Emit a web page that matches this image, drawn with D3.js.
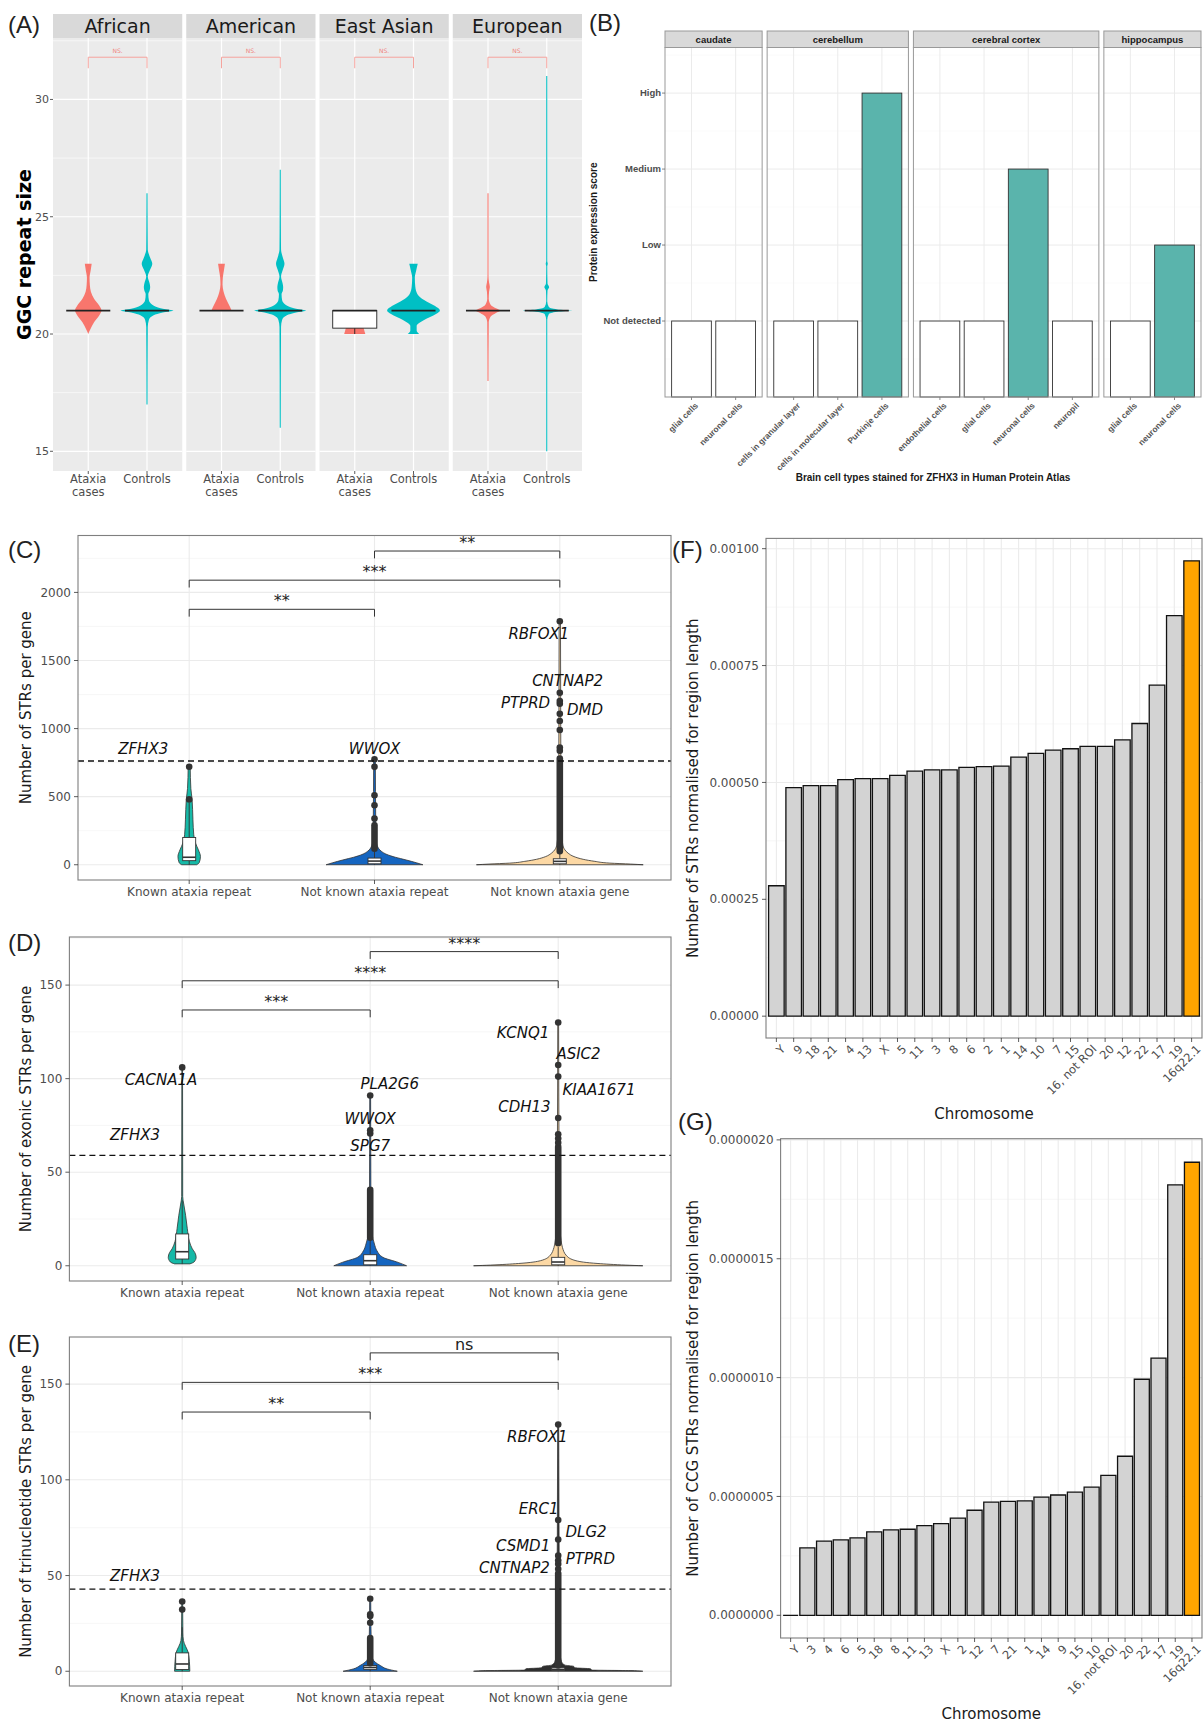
<!DOCTYPE html>
<html>
<head>
<meta charset="utf-8">
<script src="https://cdn.jsdelivr.net/npm/d3@7"></script>
<style>
  body { margin: 0; background: #fff; }
  svg { display: block; }
</style>
</head>
<body>
<script>
// ---------- Panel A: GGC repeat size per population ----------
var populations = ["African", "American", "East Asian", "European"];
var groupsA = [["Ataxia", "cases"], ["Controls"]];
var ticksA = [15, 20, 25, 30];
// violin outlines: [repeat size, relative half width]
var africanAtaxia = [[20,0],[20.2,0.08],[20.5,0.22],[20.8,0.42],[21,0.5],[21.2,0.42],[21.5,0.22],[21.8,0.1],[22.1,0.06],[22.4,0.05],[22.7,0.09],[23,0.13]];
var africanControls = [[17,0.02],[20.3,0.03],[20.6,0.07],[20.8,0.25],[20.92,0.6],[21,1],[21.08,0.6],[21.25,0.2],[21.45,0.07],[21.7,0.05],[21.85,0.1],[22,0.12],[22.15,0.1],[22.45,0.03],[22.75,0.12],[23,0.2],[23.25,0.12],[23.6,0.03],[24.5,0.025],[26,0.02]];
var americanAtaxia = [[21,0.38],[21.2,0.3],[21.5,0.17],[21.8,0.08],[22.1,0.04],[22.4,0.05],[22.7,0.09],[23,0.13]];
var americanControls = [[16,0.02],[20.3,0.03],[20.6,0.07],[20.8,0.25],[20.92,0.6],[21,0.98],[21.08,0.6],[21.25,0.2],[21.45,0.07],[21.7,0.05],[21.85,0.1],[22,0.11],[22.15,0.09],[22.45,0.03],[22.75,0.1],[23,0.16],[23.25,0.1],[23.6,0.03],[24.5,0.025],[27,0.02]];
var eastAsianAtaxia = [[20,0.4],[20.25,0.34],[20.5,0.3],[20.75,0.34],[21,0.4]];
var eastAsianControls = [[20,0.22],[20.15,0.12],[20.35,0.12],[20.6,0.4],[20.85,0.85],[21,1],[21.2,0.8],[21.45,0.4],[21.7,0.15],[22,0.07],[22.4,0.05],[22.7,0.1],[23,0.16]];
var europeanAtaxia = [[18,0.02],[20.5,0.03],[20.75,0.1],[20.9,0.3],[21,0.47],[21.1,0.3],[21.25,0.1],[21.5,0.03],[21.8,0.04],[22,0.07],[22.2,0.04],[22.5,0.02],[26,0.02]];
var europeanControls = [[15,0.02],[20.6,0.02],[20.85,0.08],[20.95,0.4],[21,0.95],[21.05,0.4],[21.15,0.08],[21.4,0.02],[21.85,0.03],[22,0.09],[22.15,0.03],[22.9,0.02],[23,0.04],[23.1,0.02],[31,0.02]];
// box stats: [lower whisker, q1, median, q3, upper whisker]
var boxesA = [
  [[21,21,21,21,21],[21,21,21,21,21]],
  [[21,21,21,21,21],[21,21,21,21,21]],
  [[20,20.25,21,21,21],[21,21,21,21,21]],
  [[21,21,21,21,21],[21,21,21,21,21]]
];
var nsBarA = 31.8, nsTipA = 31.33, nsLabelA = "NS.";

// ---------- Panel B: Human Protein Atlas staining ----------
var tissuesB = ["caudate", "cerebellum", "cerebral cortex", "hippocampus"];
var cellsB = [
  ["glial cells", "neuronal cells"],
  ["cells in granular layer", "cells in molecular layer", "Purkinje cells"],
  ["endothelial cells", "glial cells", "neuronal cells", "neuropil"],
  ["glial cells", "neuronal cells"]
];
var scoresB = [[1,1],[1,1,4],[1,1,3,1],[1,2]];
var levelsB = ["Not detected", "Low", "Medium", "High"];

// ---------- Panels C, D, E: STRs per gene ----------
var categories = ["Known ataxia repeat", "Not known ataxia repeat", "Not known ataxia gene"];

var ticksC = [0, 500, 1000, 1500, 2000];
var knownC = [[0,0.09],[15,0.12],[60,0.135],[110,0.11],[160,0.075],[220,0.055],[330,0.045],[480,0.035],[560,0.02],[720,0.012]];
var repeatC = [[0,0.58],[15,0.5],[35,0.38],[55,0.25],[75,0.15],[100,0.08],[130,0.04],[180,0.02],[300,0.015],[775,0.01]];
var geneC = [[0,1],[5,0.85],[12,0.6],[25,0.42],[40,0.28],[60,0.17],[85,0.1],[110,0.06],[150,0.035],[250,0.02],[800,0.012],[1788,0.008]];
var boxesC = [[0,30,55,200,455],[0,7,27,49,110],[0,7,25,44,95]];
var outliersC = [[480,720],[339,437,510,719,775],[837,861,990,1056,1109,1182,1202,1263,1788]];
var denseC = [[],[[118,290]],[[100,780]]];
var thresholdC = 762;
var bracketsC = [[0,1,1876,"**"],[0,2,2090,"***"],[1,2,2304,"**"]];
var labelsC = [["ZFHX3",0,849,-0.248],["WWOX",1,849,0],["RBFOX1",2,1696,-0.114],["CNTNAP2",2,1348,0.042],["PTPRD",2,1190,-0.185],["DMD",2,1141,0.136]];

var ticksD = [0, 50, 100, 150];
var knownD = [[1,0.09],[2,0.14],[4.5,0.165],[7,0.15],[9,0.12],[13,0.085],[20,0.06],[27,0.04],[33,0.018],[37,0.006],[106,0.004]];
var repeatD = [[0,0.43],[1.8,0.33],[4.5,0.15],[8,0.08],[11.6,0.05],[15,0.03],[20,0.015],[40,0.008],[91,0.005]];
var geneD = [[0,1],[0.35,0.8],[1.2,0.47],[2.7,0.21],[5.3,0.1],[9.8,0.05],[13.4,0.035],[20,0.02],[60,0.01],[130,0.005]];
var boxesD = [[1,3.6,7.5,17,35],[0,0.5,2.7,5.9,14],[0,0.5,2,4.5,10]];
var outliersD = [[106],[70.7,72.4,91],[65.7,68,70.3,79,101.1,107.3,130]];
var denseD = [[],[[15,40.6]],[[12,63.6]]];
var thresholdD = 59;
var bracketsD = [[0,1,136.7,"***"],[0,2,152.3,"****"],[1,2,167.9,"****"]];
var labelsD = [["CACNA1A",0,99.5,-0.113],["ZFHX3",0,69.8,-0.251],["PLA2G6",1,97.2,0.104],["WWOX",1,78.5,0],["SPG7",1,64.3,0],["KCNQ1",2,124.3,-0.187],["ASIC2",2,113.2,0.108],["KIAA1671",2,94.2,0.217],["CDH13",2,84.8,-0.18]];

var ticksE = [0, 50, 100, 150];
var knownE = [[0,0.09],[5,0.085],[10,0.07],[13,0.04],[16,0.015],[20,0.008],[36,0.005]];
var repeatE = [[0,0.32],[1.2,0.2],[3,0.12],[4.7,0.06],[6.4,0.03],[9,0.015],[38,0.006]];
var geneE = [[0,1],[0.3,0.9],[0.6,0.4],[1.3,0.38],[1.8,0.2],[2.6,0.18],[3.2,0.08],[5,0.04],[10,0.02],[129,0.006]];
var boxesE = [[0,0.9,3.8,9.6,23],[0,1,2,3,5],[0,0.5,1,2,4]];
var outliersE = [[32.2,36.4],[25.3,28.8,29.7,37.9],[53.4,56,57.8,60.4,68.8,79,128.9]];
var denseE = [[],[[4.2,17.4]],[[3,51]]];
var thresholdE = 42.9;
var bracketsE = [[0,1,135.4,"**"],[0,2,150.9,"***"],[1,2,166.3,"ns"]];
var labelsE = [["ZFHX3",0,49.9,-0.251],["RBFOX1",2,122.4,-0.111],["ERC1",2,85,-0.104],["DLG2",2,72.7,0.148],["CSMD1",2,65.3,-0.187],["PTPRD",2,58.7,0.171],["CNTNAP2",2,53.9,-0.233]];

// ---------- Panels F, G: STRs normalised for region length ----------
var chromF = ["Y","9","18","21","4","13","X","5","11","3","8","6","2","1","14","10","7","15","16, not ROI","20","12","22","17","19","16q22.1"];
var valuesF = [0.000279,0.000489,0.000493,0.000493,0.000506,0.000508,0.000508,0.000515,0.000524,0.000527,0.000527,0.000532,0.000534,0.000535,0.000554,0.000562,0.000569,0.000572,0.000577,0.000577,0.000591,0.000626,0.000708,0.000857,0.000974];
var ticksF = [0, 0.00025, 0.0005, 0.00075, 0.001];
var chromG = ["Y","3","4","6","5","18","8","11","13","X","2","12","7","21","1","14","9","15","10","16, not ROI","20","22","17","19","16q22.1"];
var valuesG = [0,2.84e-7,3.12e-7,3.17e-7,3.26e-7,3.51e-7,3.59e-7,3.62e-7,3.77e-7,3.86e-7,4.09e-7,4.42e-7,4.76e-7,4.79e-7,4.81e-7,4.97e-7,5.06e-7,5.18e-7,5.39e-7,5.89e-7,6.69e-7,9.93e-7,1.082e-6,1.811e-6,1.906e-6];
var ticksG = [0, 5e-7, 1e-6, 1.5e-6, 2e-6];
var highlightChrom = "16q22.1";

// ---------- drawing ----------
var FONT = "DejaVu Sans";
var svg = d3.select("body").append("svg")
  .attr("width", 1203).attr("height", 1725)
  .style("font-family", FONT);

function hline(g, x1, x2, yy, color, w) {
  g.append("line").attr("x1", x1).attr("x2", x2).attr("y1", yy).attr("y2", yy)
    .attr("stroke", color).attr("stroke-width", w);
}
function vline(g, xx, y1, y2, color, w) {
  g.append("line").attr("x1", xx).attr("x2", xx).attr("y1", y1).attr("y2", y2)
    .attr("stroke", color).attr("stroke-width", w);
}
function minorOf(ticks, domain) {
  var step = ticks[1] - ticks[0], out = [];
  for (var v = ticks[0] - step / 2; v <= domain[1]; v += step) {
    if (v >= domain[0]) out.push(v);
  }
  return out;
}
function violinPath(xc, unit, y) {
  return d3.area()
    .y(function(d) { return y(d[0]); })
    .x0(function(d) { return xc - d[1] * 0.45 * unit; })
    .x1(function(d) { return xc + d[1] * 0.45 * unit; })
    .curve(d3.curveMonotoneY);
}
function drawBox(g, xc, half, y, s, medW, stroke) {
  vline(g, xc, y(s[0]), y(s[1]), stroke, 0.9);
  vline(g, xc, y(s[3]), y(s[4]), stroke, 0.9);
  g.append("rect").attr("x", xc - half).attr("y", y(s[3]))
    .attr("width", half * 2).attr("height", Math.max(0, y(s[1]) - y(s[3])))
    .attr("fill", "#fff").attr("stroke", stroke).attr("stroke-width", 0.9);
  hline(g, xc - half, xc + half, y(s[2]), stroke, medW);
}

// panel letters
[["(A)", 8, 33], ["(B)", 589, 31], ["(C)", 8, 558], ["(D)", 8, 951], ["(E)", 8, 1352], ["(F)", 672, 558], ["(G)", 678, 1130]]
  .forEach(function(t) {
    svg.append("text").attr("x", t[1]).attr("y", t[2]).text(t[0])
      .attr("font-family", "Liberation Sans").attr("font-size", 24).attr("fill", "#222");
  });

// ===== Panel A =====
(function() {
  var g = svg.append("g");
  var violinsA = [[africanAtaxia, africanControls], [americanAtaxia, americanControls],
                  [eastAsianAtaxia, eastAsianControls], [europeanAtaxia, europeanControls]];
  var colorsA = ["#F8766D", "#00BFC4"];
  var fx = d3.scaleBand().domain(populations).range([53, 582]).paddingInner(0.03);
  var y = d3.scaleLinear().domain([14.16, 32.62]).range([471, 38]);
  var T = 38, B = 471, stripTop = 14;

  populations.forEach(function(pop, pi) {
    var x0 = fx(pop), bw = fx.bandwidth();
    var x = d3.scaleLinear().domain([0.4, 2.6]).range([x0, x0 + bw]);
    var unit = x(1) - x(0);
    g.append("rect").attr("x", x0).attr("y", stripTop).attr("width", bw).attr("height", T - stripTop)
      .attr("fill", "#d9d9d9");
    g.append("text").attr("x", x0 + bw / 2).attr("y", (stripTop + T) / 2).attr("dy", "0.36em")
      .attr("text-anchor", "middle").attr("font-size", 19).attr("fill", "#1a1a1a").text(pop);
    g.append("rect").attr("x", x0).attr("y", T).attr("width", bw).attr("height", B - T).attr("fill", "#ebebeb");
    minorOf(ticksA, y.domain()).forEach(function(v) { hline(g, x0, x0 + bw, y(v), "#fff", 0.6); });
    ticksA.forEach(function(v) { hline(g, x0, x0 + bw, y(v), "#fff", 1.2); });
    [1, 2].forEach(function(v) { vline(g, x(v), T, B, "#fff", 1.2); });

    violinsA[pi].forEach(function(shape, gi) {
      g.append("path").attr("d", violinPath(x(gi + 1), unit, y)(shape)).attr("fill", colorsA[gi]);
    });
    boxesA[pi].forEach(function(s, gi) {
      drawBox(g, x(gi + 1), 0.375 * unit, y, s, 1.8, "#222");
    });
    // significance bracket
    g.append("path")
      .attr("d", "M" + x(1) + "," + y(nsTipA) + "V" + y(nsBarA) + "H" + x(2) + "V" + y(nsTipA))
      .attr("fill", "none").attr("stroke", "#F5A39D").attr("stroke-width", 1);
    g.append("text").attr("x", x(1.5)).attr("y", y(nsBarA) - 4).attr("text-anchor", "middle")
      .attr("font-size", 6).attr("fill", "#F0837B").text(nsLabelA);
    // x labels
    groupsA.forEach(function(lines, gi) {
      lines.forEach(function(l, li) {
        g.append("text").attr("x", x(gi + 1)).attr("y", B + 12 + li * 13).attr("text-anchor", "middle")
          .attr("font-size", 11.5).attr("fill", "#4d4d4d").text(l);
      });
      vline(g, x(gi + 1), B, B + 3, "#333", 0.8);
    });
  });
  var L = fx(populations[0]);
  ticksA.forEach(function(v) {
    hline(g, L - 3, L, y(v), "#333", 0.8);
    g.append("text").attr("x", L - 4).attr("y", y(v)).attr("dy", "0.35em").attr("text-anchor", "end")
      .attr("font-size", 11).attr("fill", "#4d4d4d").text(v);
  });
  g.append("text").attr("transform", "translate(31," + (T + B) / 2 + ") rotate(-90)")
    .attr("text-anchor", "middle").attr("font-size", 19).attr("font-weight", "bold").attr("fill", "#000")
    .text("GGC repeat size");
})();

// ===== Panel B =====
(function() {
  var g = svg.append("g").style("font-family", "Liberation Sans");
  var left = 665, right = 1201, gap = 5, stripTop = 31, T = 47.5, B = 397;
  var y = d3.scaleLinear().domain([0, 4.6]).range([B, T]);
  var spans = cellsB.map(function(c) { return c.length + 0.2; });
  var unit = (right - left - gap * (spans.length - 1)) / d3.sum(spans);
  var x0 = left;
  tissuesB.forEach(function(t, ti) {
    var w = spans[ti] * unit;
    var x = d3.scaleBand().domain(cellsB[ti]).range([x0, x0 + w]).paddingInner(0.1).paddingOuter(0.15);
    g.append("rect").attr("x", x0).attr("y", T).attr("width", w).attr("height", B - T).attr("fill", "#fff");
    [0.5, 1.5, 2.5, 3.5, 4.5].forEach(function(v) { hline(g, x0, x0 + w, y(v), "#f4f4f4", 0.5); });
    [1, 2, 3, 4].forEach(function(v) { hline(g, x0, x0 + w, y(v), "#ebebeb", 1); });
    cellsB[ti].forEach(function(c) { vline(g, x(c) + x.bandwidth() / 2, T, B, "#ebebeb", 1); });
    cellsB[ti].forEach(function(c, ci) {
      var v = scoresB[ti][ci];
      g.append("rect").attr("x", x(c)).attr("y", y(v)).attr("width", x.bandwidth()).attr("height", y(0) - y(v))
        .attr("fill", v > 1 ? "#5AB4AC" : "#fff").attr("stroke", "#333").attr("stroke-width", 0.9);
      var cx = x(c) + x.bandwidth() / 2;
      vline(g, cx, B, B + 3, "#555", 0.7);
      g.append("text").attr("transform", "translate(" + (cx + 3) + "," + (B + 5) + ") rotate(-45)")
        .attr("text-anchor", "end").attr("dy", "0.7em").attr("font-size", 8.4).attr("font-weight", "bold")
        .attr("fill", "#555").text(c);
    });
    g.append("rect").attr("x", x0).attr("y", T).attr("width", w).attr("height", B - T)
      .attr("fill", "none").attr("stroke", "#999").attr("stroke-width", 1);
    g.append("rect").attr("x", x0).attr("y", stripTop).attr("width", w).attr("height", T - stripTop)
      .attr("fill", "#d9d9d9").attr("stroke", "#999").attr("stroke-width", 1);
    g.append("text").attr("x", x0 + w / 2).attr("y", (stripTop + T) / 2).attr("dy", "0.36em")
      .attr("text-anchor", "middle").attr("font-size", 9.5).attr("font-weight", "bold").attr("fill", "#1a1a1a").text(t);
    x0 += w + gap;
  });
  levelsB.forEach(function(l, i) {
    hline(g, left - 3, left, y(i + 1), "#555", 0.7);
    g.append("text").attr("x", left - 4).attr("y", y(i + 1)).attr("dy", "0.35em").attr("text-anchor", "end")
      .attr("font-size", 9.5).attr("font-weight", "bold").attr("fill", "#4d4d4d").text(l);
  });
  g.append("text").attr("transform", "translate(597," + (T + B) / 2 + ") rotate(-90)")
    .attr("text-anchor", "middle").attr("font-size", 10).attr("font-weight", "bold").attr("fill", "#1a1a1a")
    .text("Protein expression score");
  g.append("text").attr("x", (left + right) / 2).attr("y", 481).attr("text-anchor", "middle")
    .attr("font-size", 10).attr("font-weight", "bold").attr("fill", "#1a1a1a")
    .text("Brain cell types stained for ZFHX3 in Human Protein Atlas");
})();

// ===== Panels C, D, E =====
function drawViolinPanel(p) {
  var g = svg.append("g");
  var L = p.rect[0], R = p.rect[1], T = p.rect[2], B = p.rect[3];
  var x = d3.scalePoint().domain(categories).range([L, R]).padding(0.6);
  var unit = x.step();
  var y = d3.scaleLinear().domain(p.domain).range([B, T]);
  var span = p.domain[1] - p.domain[0];

  minorOf(p.ticks, p.domain).forEach(function(v) { hline(g, L, R, y(v), "#f3f3f3", 0.7); });
  p.ticks.forEach(function(v) { hline(g, L, R, y(v), "#ebebeb", 1.1); });
  categories.forEach(function(c) { vline(g, x(c), T, B, "#ebebeb", 1.1); });

  categories.forEach(function(c, i) {
    g.append("path").attr("d", violinPath(x(c), unit, y)(p.violins[i]))
      .attr("fill", p.fills[i]).attr("stroke", "#333").attr("stroke-width", 0.8);
  });
  categories.forEach(function(c, i) {
    drawBox(g, x(c), 6.5, y, p.boxes[i], 1.6, "#333");
    p.dense[i].forEach(function(r) {
      g.append("line").attr("x1", x(c)).attr("x2", x(c)).attr("y1", y(r[0])).attr("y2", y(r[1]))
        .attr("stroke", "#333").attr("stroke-width", 6.6).attr("stroke-linecap", "round");
    });
    g.selectAll(null).data(p.outliers[i]).enter().append("circle")
      .attr("cx", x(c)).attr("cy", function(d) { return y(d); }).attr("r", 3.3).attr("fill", "#333");
  });

  g.append("line").attr("x1", L).attr("x2", R).attr("y1", y(p.threshold)).attr("y2", y(p.threshold))
    .attr("stroke", "#111").attr("stroke-width", 1.3).attr("stroke-dasharray", "6,4");

  var tip = 0.0213 * span;
  p.brackets.forEach(function(b) {
    var xa = x(categories[b[0]]), xb = x(categories[b[1]]);
    g.append("path").attr("d", "M" + xa + "," + y(b[2] - tip) + "V" + y(b[2]) + "H" + xb + "V" + y(b[2] - tip))
      .attr("fill", "none").attr("stroke", "#333").attr("stroke-width", 1);
    g.append("text").attr("x", (xa + xb) / 2).attr("y", y(b[2]) - 3).attr("text-anchor", "middle")
      .attr("font-size", 16).attr("fill", "#222").text(b[3]);
  });

  p.labels.forEach(function(l) {
    g.append("text").attr("x", x(categories[l[1]]) + l[3] * unit).attr("y", y(l[2])).attr("dy", "0.35em")
      .attr("text-anchor", "middle").attr("font-size", 15).attr("font-style", "italic").attr("fill", "#111")
      .text(l[0]);
  });

  g.append("rect").attr("x", L).attr("y", T).attr("width", R - L).attr("height", B - T)
    .attr("fill", "none").attr("stroke", "#7f7f7f").attr("stroke-width", 1.1);

  p.ticks.forEach(function(v) {
    hline(g, L - 4, L, y(v), "#333", 0.8);
    g.append("text").attr("x", L - 7).attr("y", y(v)).attr("dy", "0.35em").attr("text-anchor", "end")
      .attr("font-size", 12).attr("fill", "#4d4d4d").text(v);
  });
  categories.forEach(function(c) {
    vline(g, x(c), B, B + 4, "#333", 0.8);
    g.append("text").attr("x", x(c)).attr("y", B + 16).attr("text-anchor", "middle")
      .attr("font-size", 12).attr("fill", "#4d4d4d").text(c);
  });
  g.append("text").attr("transform", "translate(26," + (T + B) / 2 + ") rotate(-90)").attr("dy", "0.35em")
    .attr("text-anchor", "middle").attr("font-size", 15).attr("fill", "#1a1a1a").text(p.title);
}

var fillsCDE = ["#16B9A7", "#1565C0", "#FCD8A4"];
drawViolinPanel({ rect: [78, 671, 535.5, 880], domain: [-112, 2418], ticks: ticksC,
  violins: [knownC, repeatC, geneC], boxes: boxesC, outliers: outliersC, dense: denseC,
  threshold: thresholdC, brackets: bracketsC, labels: labelsC, fills: fillsCDE,
  title: "Number of STRs per gene" });
drawViolinPanel({ rect: [69.4, 671, 937, 1281], domain: [-8.15, 175.7], ticks: ticksD,
  violins: [knownD, repeatD, geneD], boxes: boxesD, outliers: outliersD, dense: denseD,
  threshold: thresholdD, brackets: bracketsD, labels: labelsD, fills: fillsCDE,
  title: "Number of exonic STRs per gene" });
drawViolinPanel({ rect: [69.4, 671, 1337, 1686], domain: [-7.7, 174.6], ticks: ticksE,
  violins: [knownE, repeatE, geneE], boxes: boxesE, outliers: outliersE, dense: denseE,
  threshold: thresholdE, brackets: bracketsE, labels: labelsE, fills: ["#16B9A7", "#1565C0", "#2e2e2e"],
  title: "Number of trinucleotide STRs per gene" });

// ===== Panels F, G =====
function drawBarPanel(p) {
  var g = svg.append("g");
  var L = p.rect[0], R = p.rect[1], T = p.rect[2], B = p.rect[3];
  var x = d3.scaleBand().domain(p.cats).range([L, R]).paddingInner(0.1).paddingOuter(0.15);
  var y = d3.scaleLinear().domain(p.domain).range([B, T]);
  var bw = x.bandwidth();

  minorOf(p.ticks, p.domain).forEach(function(v) { hline(g, L, R, y(v), "#f3f3f3", 0.7); });
  p.ticks.forEach(function(v) { hline(g, L, R, y(v), "#ebebeb", 1.1); });
  p.cats.forEach(function(c) { vline(g, x(c) + bw / 2, T, B, "#ebebeb", 1.1); });

  g.selectAll(null).data(p.values).enter().append("path")
    .attr("d", function(d, i) {
      var xa = x(p.cats[i]);
      return "M" + xa + "," + y(0) + "V" + y(d) + "H" + (xa + bw) + "V" + y(0) + "Z";
    })
    .attr("fill", function(d, i) { return p.cats[i] === highlightChrom ? "#FFA500" : "#D3D3D3"; })
    .attr("stroke", "#111").attr("stroke-width", 1.3);

  g.append("rect").attr("x", L).attr("y", T).attr("width", R - L).attr("height", B - T)
    .attr("fill", "none").attr("stroke", "#7f7f7f").attr("stroke-width", 1.1);

  p.ticks.forEach(function(v) {
    hline(g, L - 4, L, y(v), "#333", 0.8);
    g.append("text").attr("x", L - 7).attr("y", y(v)).attr("dy", "0.35em").attr("text-anchor", "end")
      .attr("font-size", 12).attr("fill", "#4d4d4d").text(p.format(v));
  });
  p.cats.forEach(function(c) {
    var cx = x(c) + bw / 2;
    vline(g, cx, B, B + 4, "#333", 0.8);
    g.append("text").attr("transform", "translate(" + (cx + 4) + "," + (B + 6) + ") rotate(-45)")
      .attr("text-anchor", "end").attr("dy", "0.7em").attr("font-size", 11.5).attr("fill", "#4d4d4d").text(c);
  });
  g.append("text").attr("x", (L + R) / 2).attr("y", p.xTitleY).attr("text-anchor", "middle")
    .attr("font-size", 15).attr("fill", "#1a1a1a").text("Chromosome");
  g.append("text").attr("transform", "translate(693," + (T + B) / 2 + ") rotate(-90)").attr("dy", "0.35em")
    .attr("text-anchor", "middle").attr("font-size", 15).attr("fill", "#1a1a1a").text(p.title);
}

drawBarPanel({ rect: [766, 1202, 538.4, 1038], domain: [-0.0000467, 0.001022], ticks: ticksF,
  cats: chromF, values: valuesF, format: d3.format(".5f"), xTitleY: 1119,
  title: "Number of STRs normalised for region length" });
drawBarPanel({ rect: [780.6, 1202, 1138.7, 1638], domain: [-9.55e-8, 2.005e-6], ticks: ticksG,
  cats: chromG, values: valuesG, format: d3.format(".7f"), xTitleY: 1719,
  title: "Number of CCG STRs normalised for region length" });
</script>
</body>
</html>
